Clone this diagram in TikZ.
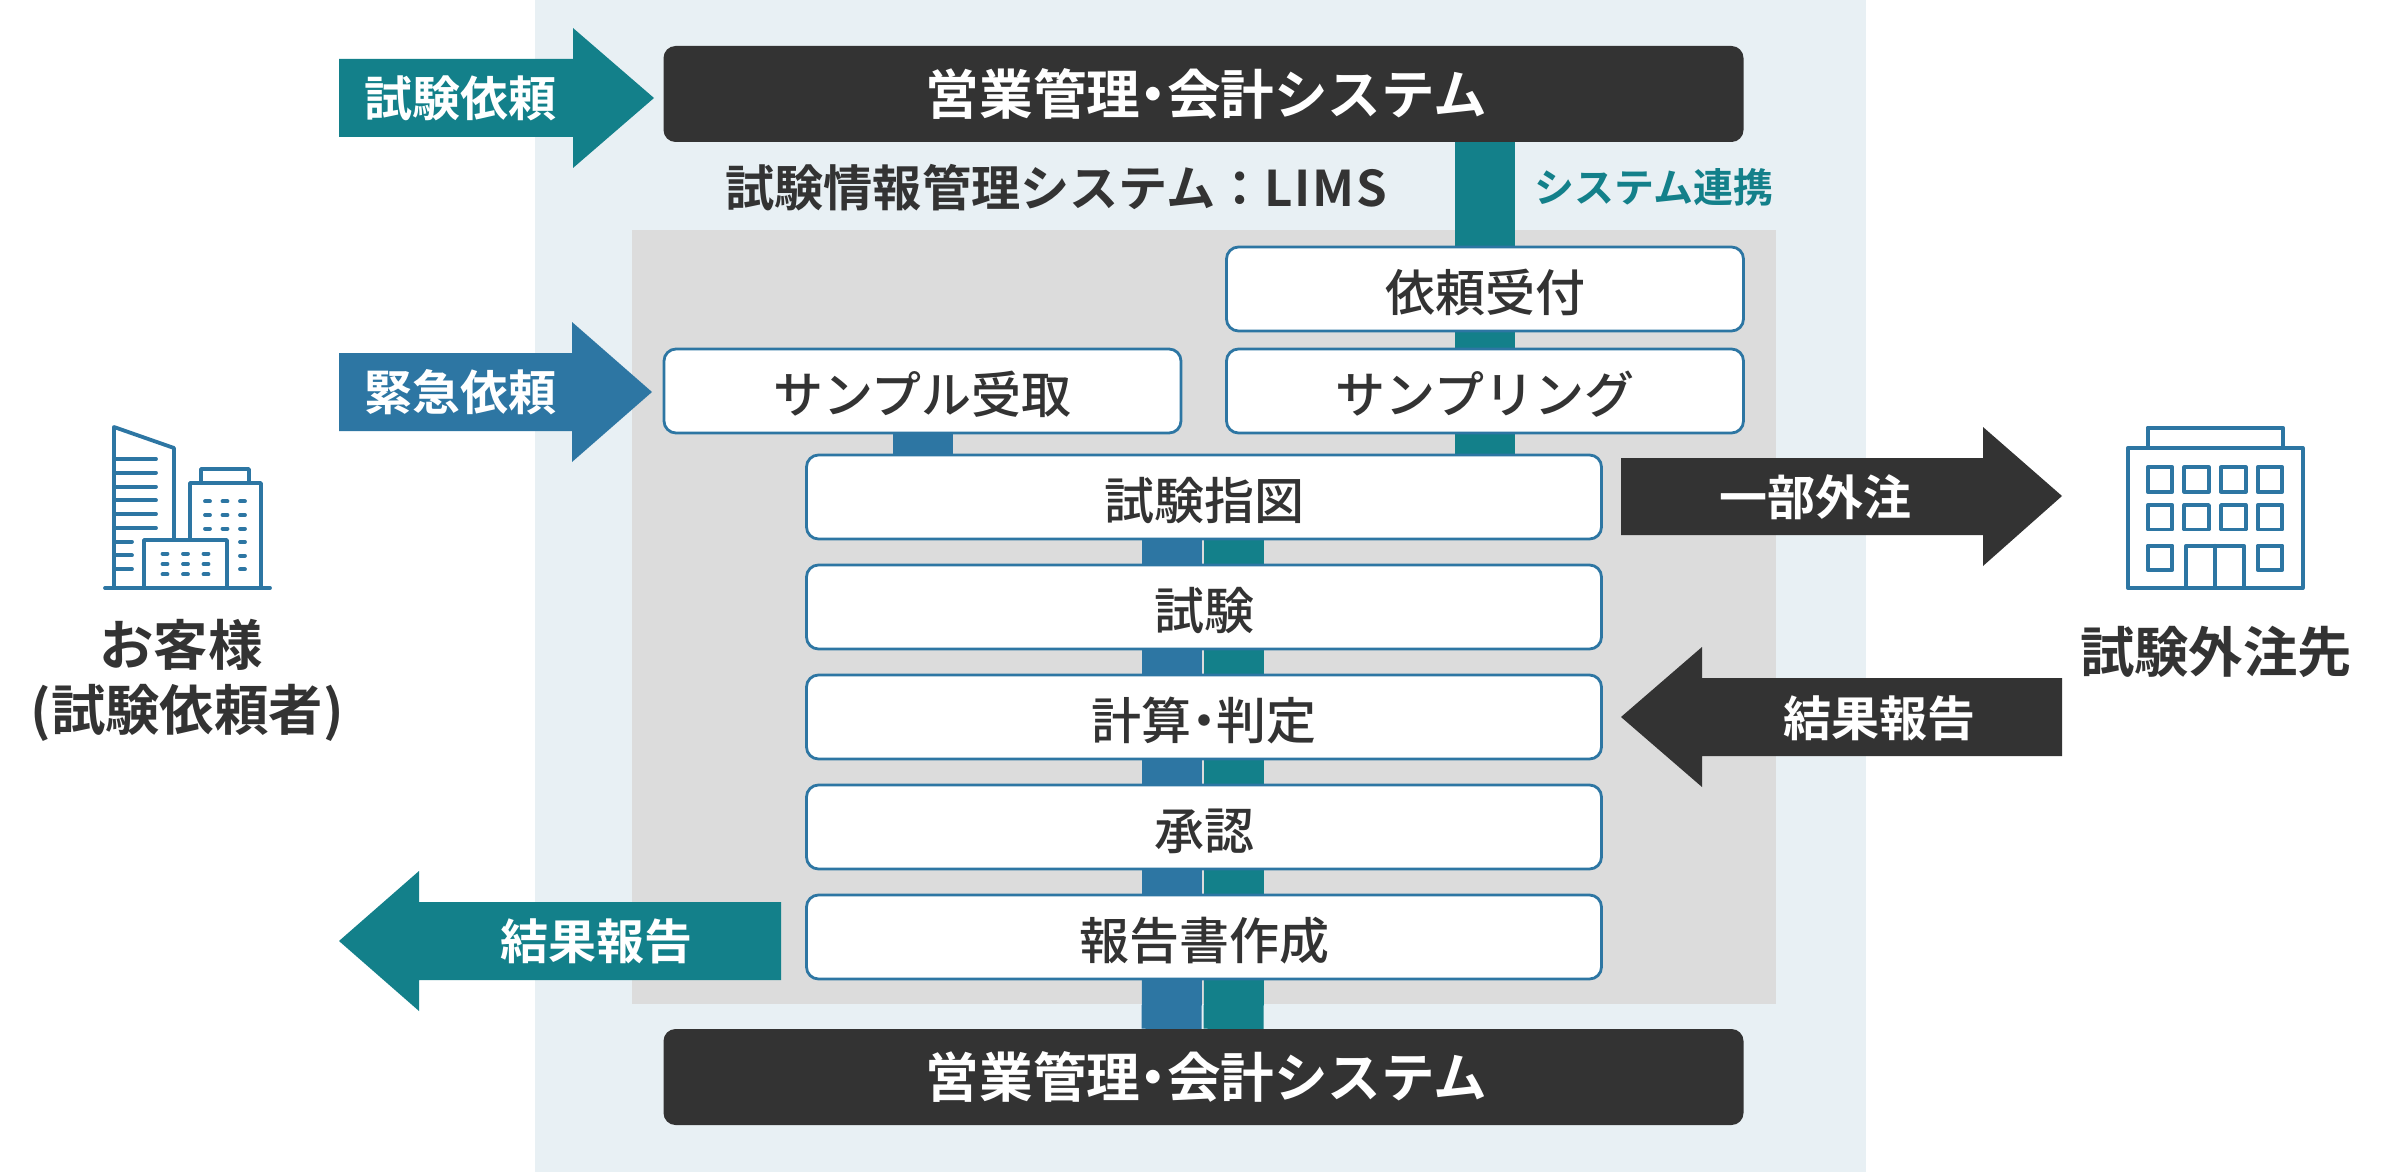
\documentclass[tikz,border=0pt]{standalone}
\usepackage{fontspec}
\usetikzlibrary{backgrounds,calc}
\setmainfont[BoldFont={Noto Sans CJK JP Bold}]{Noto Sans CJK JP}
\newfontfamily\medf{Noto Sans CJK JP Medium}
\newcommand\nardot{{\addfontfeature{RawFeature=+palt}・}}
\definecolor{ctealc}{HTML}{13808A}
\definecolor{cbluec}{HTML}{2D76A3}
\definecolor{cdark}{HTML}{333333}
\definecolor{cbg}{HTML}{E8F0F4}
\definecolor{cgray}{HTML}{DCDCDC}
\tikzset{
  sysbox/.style={fill=cdark,rounded corners=6pt,minimum width=540pt,minimum height=48pt,inner sep=0pt,outer sep=0pt,text=white,font=\bfseries\fontsize{26.8}{32}\selectfont},
  stepbox/.style={draw=cbluec,line width=1.4pt,fill=white,rounded corners=6pt,minimum height=42pt,inner sep=0pt,outer sep=0pt,text=cdark,text height=25.4pt,text depth=3.4pt,font=\medf\fontsize{25}{30}\selectfont},
  widebox/.style={stepbox,minimum width=397.5pt},
  halfbox/.style={stepbox,minimum width=258.5pt},
  arrowtext/.style={text=white,inner sep=0pt,font=\bfseries\fontsize{24}{28}\selectfont},
  heading/.style={text=cdark,inner sep=0pt,align=center,font=\bfseries\fontsize{27.2}{32.5}\selectfont},
  tealbar/.style={draw=ctealc,line width=30pt},
  bluebar/.style={draw=cbluec,line width=30pt},
  icon/.style={draw=cbluec,line width=1.9pt,line join=round,line cap=round},
}
\begin{document}
\begin{tikzpicture}[x=0.5pt,y=-0.5pt]
\useasboundingbox (0,0) rectangle (2400,1172);
% system boxes
\node[sysbox] (sys1) at (1203.5,94) {\hspace*{3pt}営業管理\nardot 会計システム};
\node[sysbox] (sys2) at (1203.5,1077) {\hspace*{3pt}営業管理\nardot 会計システム};
% steps
\node[halfbox] (req) at (1485,289) {依頼受付};
\node[halfbox] (samp) at (1485,391) {サンプリング};
\node[halfbox] (recv) at (922.5,391) {サンプル受取};
\node[widebox] (s1) at (1204,497) {試験指図};
\node[widebox] (s2) at (1204,607) {試験};
\node[widebox] (s3) at (1204,717) {計算\nardot 判定};
\node[widebox] (s4) at (1204,827) {承認};
\node[widebox] (s5) at (1204,937) {報告書作成};
% titles
\node[heading,font=\bfseries\fontsize{24.6}{30}\selectfont] (lims) at (1056,188) {試験情報管理システム：{\addfontfeature{LetterSpace=3}LIMS}};
\node[text=ctealc,inner sep=0pt,font=\bfseries\fontsize{20}{25}\selectfont] (link) at (1654,187) {システム連携};
% arrows
\fill[ctealc] (339,59) -- (573,59) -- (573,28) -- (654,98) -- (573,168) -- (573,137) -- (339,137) -- cycle;
\node[arrowtext] (a1) at (460,98) {試験依頼};
\fill[cbluec] (339,353) -- (572,353) -- (572,322) -- (652,392) -- (572,462) -- (572,431) -- (339,431) -- cycle;
\node[arrowtext] (a2) at (460,392) {緊急依頼};
\fill[cdark] (1621,458) -- (1983,458) -- (1983,427) -- (2062,496) -- (1983,566) -- (1983,535) -- (1621,535) -- cycle;
\node[arrowtext] (a3) at (1815,497) {一部外注};
\fill[cdark] (2062,678) -- (1702,678) -- (1702,647) -- (1621,717) -- (1702,787) -- (1702,756) -- (2062,756) -- cycle;
\node[arrowtext] (a4) at (1879,718) {結果報告};
\fill[ctealc] (781,902) -- (419,902) -- (419,871) -- (339,941) -- (419,1011) -- (419,980) -- (781,980) -- cycle;
\node[arrowtext] (a5) at (596,941) {結果報告};
% party labels
\node[heading] (cust) at (187,680) {お客様\hspace*{6pt}\\(試験依頼者)};
\node[heading] (ext) at (2216,652) {試験外注先};
% customer icon
\draw[icon] (105,588) -- (270,588);
\draw[icon] (114,588) -- (114,427) -- (174,448) -- (174,538);
\foreach \y in {459,472.7,486.7,500.3,514,528} \draw[icon] (114,\y) -- (156,\y);
\foreach \y in {541.7,555.3,569} \draw[icon] (114,\y) -- (132,\y);
\draw[icon] (190,538) -- (190,483) -- (261,483) -- (261,588);
\draw[icon] (201,483) -- (201,469) -- (249,469) -- (249,483);
\foreach \x in {205,222.5,240} \foreach \y in {501.3,515,528.7} \draw[icon] (\x,\y) -- (\x+5,\y);
\foreach \y in {542,555.7,569.3} \draw[icon] (240,\y) -- (245,\y);
\draw[icon] (144,588) -- (144,540) -- (227,540) -- (227,588);
\foreach \x in {162.5,183,203.5} \foreach \y in {553.7,564,574.3} \draw[icon] (\x,\y) -- (\x+5,\y);
% external icon
\draw[icon] (2127.7,448) rectangle (2302.7,588);
\draw[icon] (2147.7,448) -- (2147.7,427.7) -- (2282.7,427.7) -- (2282.7,448);
\foreach \x in {2147.7,2184.3,2221,2257.7} \foreach \y in {467.3,505} \draw[icon] (\x,\y) rectangle (\x+24.6,\y+24.4);
\draw[icon] (2147.7,545.7) rectangle (2172.3,570);
\draw[icon] (2257.7,545.7) rectangle (2282.3,570);
\draw[icon] (2186,588) -- (2186,545.7) -- (2244,545.7) -- (2244,588);
\draw[icon] (2215,545.7) -- (2215,588);
\begin{pgfonlayer}{background}
\fill[white] (0,0) rectangle (2400,1172);
\fill[cbg] (535,0) rectangle (1866,1172);
\fill[cgray] (632,230) rectangle (1776,1003.5);
\draw[tealbar] (sys1.south -| req.north) -- (req.north);
\draw[tealbar] (req.south) -- (samp.north);
\draw[tealbar] (samp.south) -- (samp.south |- s1.north);
\draw[bluebar] (recv.south) -- (recv.south |- s1.north);
\foreach \a/\b in {s1/s2,s2/s3,s3/s4,s4/s5,s5/sys2}{
  \draw[bluebar] ($(\a.south)+(-32,0)$) -- ($(\b.north)+(-32,0)$);
  \draw[tealbar] ($(\a.south)+(30,0)$) -- ($(\b.north)+(30,0)$);
}
\end{pgfonlayer}
\end{tikzpicture}
\end{document}
